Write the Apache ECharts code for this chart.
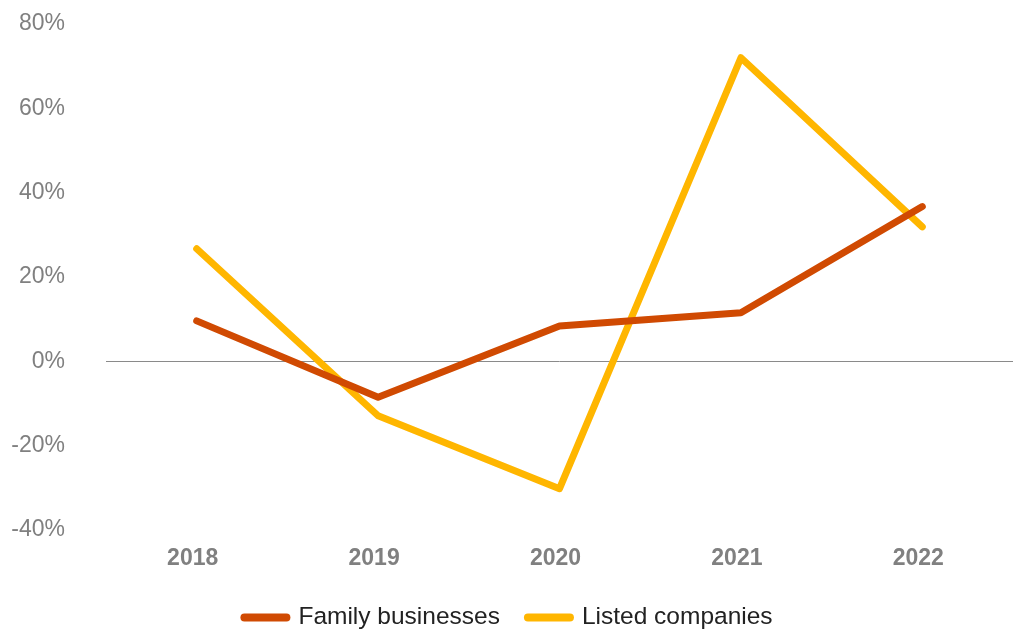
<!DOCTYPE html>
<html>
<head>
<meta charset="utf-8">
<script src="https://cdn.jsdelivr.net/npm/echarts@6/dist/echarts.min.js"></script>
<style>
html,body{margin:0;padding:0;background:#fff;}
#chart{width:1013px;height:637px;}
</style>
</head>
<body>
<div id="chart"></div>
<script>
const categories = ['2018', '2019', '2020', '2021', '2022'];
const familyBusinesses = [9.6, -8.5, 8.4, 11.5, 36.7];
const listedCompanies = [26.7, -12.9, -30.2, 72.0, 31.9];
const yTicks = [-40, -20, 0, 20, 40, 60, 80];

const chart = echarts.init(document.getElementById('chart'));
const pill = 'path://M4,0 H46 A4,4 0 0 1 46,8 H4 A4,4 0 0 1 4,0 Z';
chart.setOption({
  animation: false,
  grid: { left: 106, right: 0, top: 24, bottom: 107 },
  legend: {
    bottom: 2,
    left: 'center',
    itemWidth: 50,
    itemHeight: 8,
    itemGap: 24,
    textStyle: { fontFamily: 'Liberation Sans, Arial, sans-serif', fontSize: 24.5, color: '#222', padding: [0, 0, 0, 3] },
    data: [
      { name: 'Family businesses', icon: pill },
      { name: 'Listed companies', icon: pill }
    ]
  },
  xAxis: {
    type: 'category',
    data: categories,
    axisLine: { show: false, onZero: false },
    axisTick: { show: false },
    axisLabel: {
      margin: 17,
      padding: [0, 8, 0, 0],
      fontFamily: 'Liberation Sans, Arial, sans-serif',
      fontSize: 23, fontWeight: 'bold', color: '#808080'
    }
  },
  yAxis: {
    type: 'value',
    min: yTicks[0],
    max: yTicks[yTicks.length - 1],
    interval: 20,
    splitLine: { show: false },
    axisLine: { show: false },
    axisTick: { show: false },
    axisLabel: {
      margin: 41,
      padding: [4, 0, 0, 0],
      formatter: '{value}%',
      fontFamily: 'Liberation Sans, Arial, sans-serif',
      fontSize: 23, color: '#808080'
    }
  },
  series: [
    {
      name: 'Family businesses',
      type: 'line',
      data: familyBusinesses,
      symbol: 'none',
      color: '#D04A02',
      lineStyle: { width: 7, color: '#D04A02', cap: 'round', join: 'round' },
      markLine: {
        silent: true,
        symbol: 'none',
        label: { show: false },
        lineStyle: { color: '#8a8a8a', width: 1, type: 'solid' },
        data: [{ yAxis: 0 }],
        z: 1
      },
      z: 3
    },
    {
      name: 'Listed companies',
      type: 'line',
      data: listedCompanies,
      symbol: 'none',
      color: '#FFB600',
      lineStyle: { width: 7, color: '#FFB600', cap: 'round', join: 'round' },
      z: 2
    }
  ]
});
</script>
</body>
</html>
